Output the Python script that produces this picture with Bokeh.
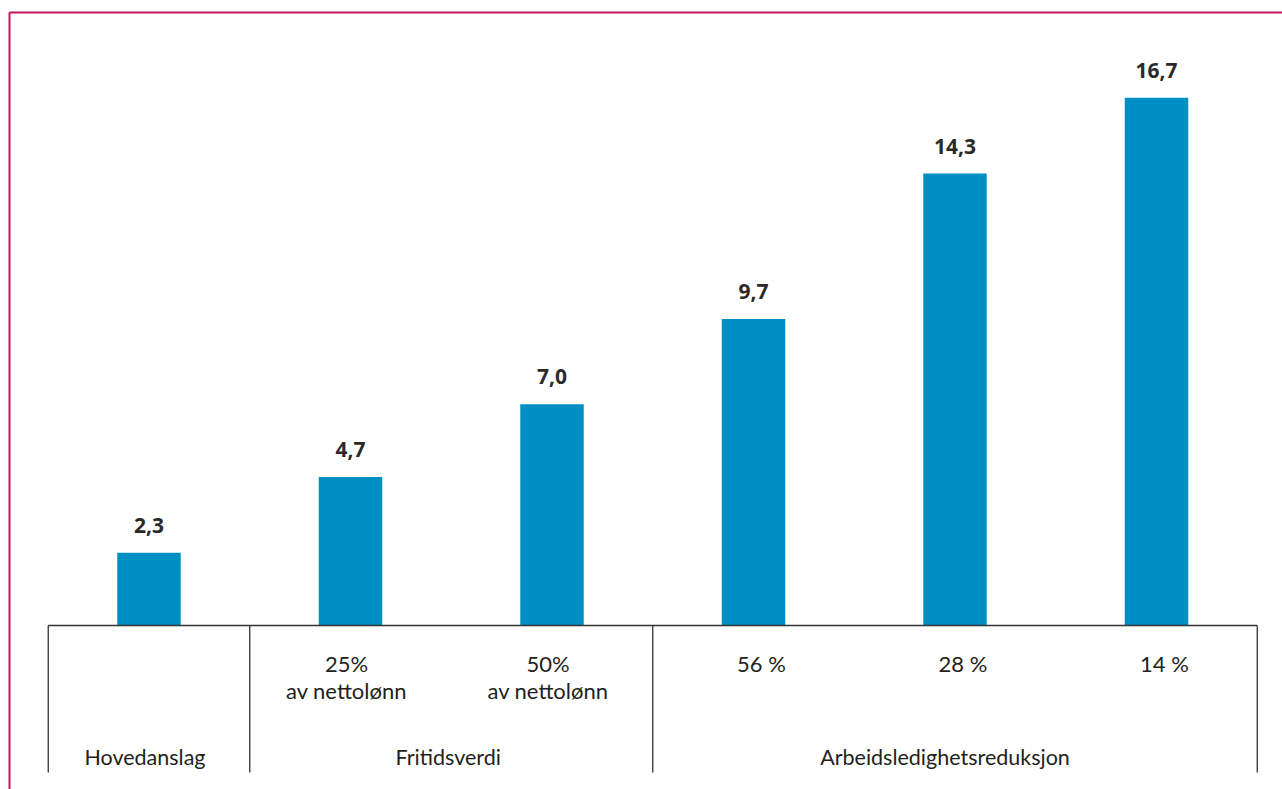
from bokeh.plotting import figure
from bokeh.models import Range1d, ColumnDataSource
from bokeh.core.properties import value
from bokeh.embed import file_html
from bokeh.resources import INLINE

# ---- data ----
values = [2.3, 4.7, 7.0, 9.7, 14.3, 16.7]
value_labels = ["2,3", "4,7", "7,0", "9,7", "14,3", "16,7"]
sub_line1 = ["", "25%", "50%", "56 %", "28 %", "14 %"]
sub_line2 = ["", "av nettolønn", "av nettolønn", "", "", ""]
groups = ["Hovedanslag", "Fritidsverdi", "Arbeidsledighetsreduksjon"]
group_first = [0, 1, 3]
group_last = [0, 2, 5]

# ---- layout (pixels) ----
W, H = 1282, 789
CAT_PX = 201.5          # width of one category in pixels
FIRST_CENTER_PX = 148.5
BASE_PX = 625           # baseline pixel row
UNIT_PX = 31.6          # pixels per value unit

x0 = -FIRST_CENTER_PX / CAT_PX
x1 = (W - FIRST_CENTER_PX) / CAT_PX
y1 = BASE_PX / UNIT_PX
y0 = -(H - BASE_PX) / UNIT_PX

def px_x(px):
    return x0 + px / W * (x1 - x0)

def px_y(py):
    return y1 - py / H * (y1 - y0)

p = figure(width=W, height=H, output_backend="svg", toolbar_location=None,
           x_range=Range1d(x0, x1), y_range=Range1d(y0, y1),
           min_border=0, min_border_left=0, min_border_right=0,
           min_border_top=0, min_border_bottom=0)
p.axis.visible = False
p.grid.visible = False
p.outline_line_color = None
p.background_fill_color = "white"
p.border_fill_color = "white"

idx = list(range(len(values)))
sub_dx = [0, -4, -4, 8, 8, 8]   # small horizontal nudges of the sub-labels (style)
src = ColumnDataSource(dict(x=idx, top=values, lab=value_labels,
                            s1=sub_line1, s2=sub_line2, dx=sub_dx))

p.vbar(x="x", top="top", bottom=0, width=0.315, source=src,
       fill_color="#008FC4", line_color=None)

FONT = value("Lato")
FONT2 = value("Open Sans")
TXT = "#231F20"

p.text(x="x", y="top", text="lab", source=src, y_offset=-20,
       text_align="center", text_baseline="bottom",
       text_font=FONT2, text_font_size="21px", text_font_style="bold",
       text_color="#2a2a2a")

# table lines
table_bottom = px_y(772)
n = len(values)
p.segment(x0=[-0.5], y0=[0], x1=[n - 0.5], y1=[0], line_color="#333333", line_width=1.3)
bounds = [group_first[0] - 0.5] + [g + 0.5 for g in group_last]
p.segment(x0=bounds, y0=[0] * len(bounds), x1=bounds, y1=[table_bottom] * len(bounds),
          line_color="#333333", line_width=1.3)

p.text(x="x", y=0, text="s1", source=src, y_offset=38, x_offset="dx",
       text_align="center", text_baseline="middle",
       text_font=FONT, text_font_size="22px", text_color=TXT)
p.text(x="x", y=0, text="s2", source=src, y_offset=65, x_offset="dx",
       text_align="center", text_baseline="middle",
       text_font=FONT, text_font_size="22px", text_color=TXT)

gx = [(a + b) / 2 for a, b in zip(group_first, group_last)]
p.text(x=gx, y=[0] * len(gx), text=groups, y_offset=131, x_offset=[-4, -3, -10],
       text_align="center", text_baseline="middle",
       text_font=FONT, text_font_size="21.5px", text_color=TXT)

# magenta frame (top and left edges)
bx, by = px_x(9), px_y(12)
p.segment(x0=[bx, bx], y0=[by, by], x1=[x1 + 1, bx], y1=[by, y0 - 1],
          line_color="#C2185B", line_width=2)

open("out.html", "w").write(file_html(p, INLINE))
